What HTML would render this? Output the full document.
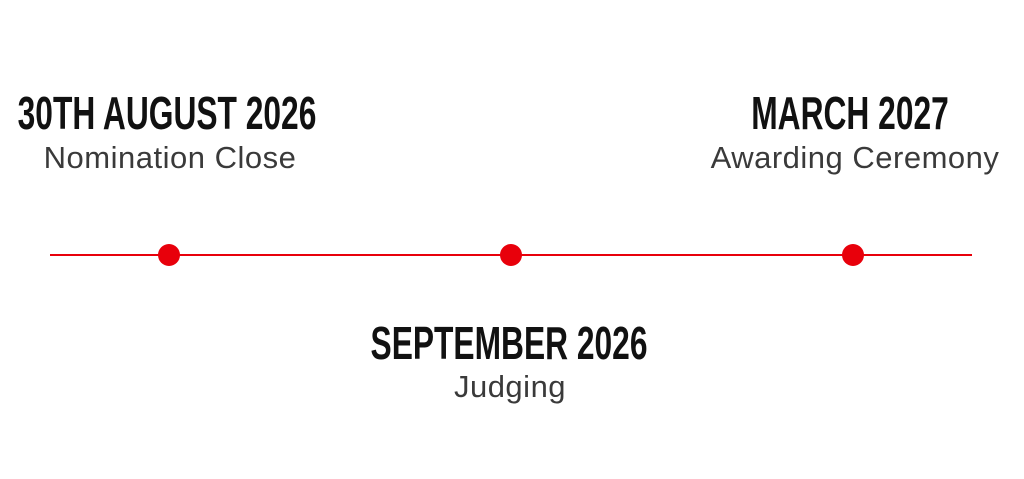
<!DOCTYPE html>
<html><head><meta charset="utf-8"><style>
html,body{margin:0;padding:0;background:#fff;width:1024px;height:479px;overflow:hidden;position:relative}
.h{position:absolute;font-family:"Liberation Sans",sans-serif;font-weight:bold;font-size:46px;line-height:1;color:#111;white-space:nowrap;transform:translateX(-50%) scaleX(0.69);transform-origin:center}
.s{position:absolute;font-family:"Liberation Sans",sans-serif;font-size:31px;letter-spacing:0.5px;line-height:1;color:#3a3a3a;white-space:nowrap;transform:translateX(-50%)}
.line{position:absolute;left:50px;width:922px;top:254px;height:2px;background:#e8000b}
.dot{position:absolute;width:22px;height:22px;border-radius:50%;background:#e8000b;top:244px;margin-left:-11px}
</style></head><body>
<div class="h" style="left:167px;top:90px">30TH AUGUST 2026</div>
<div class="s" style="left:170px;top:142px">Nomination Close</div>
<div class="h" style="left:850px;top:90px">MARCH 2027</div>
<div class="s" style="left:855px;top:142px">Awarding Ceremony</div>
<div class="line"></div>
<div class="dot" style="left:169px"></div>
<div class="dot" style="left:511px"></div>
<div class="dot" style="left:853px"></div>
<div class="h" style="left:509px;top:320px">SEPTEMBER 2026</div>
<div class="s" style="left:510px;top:371px">Judging</div>
</body></html>
